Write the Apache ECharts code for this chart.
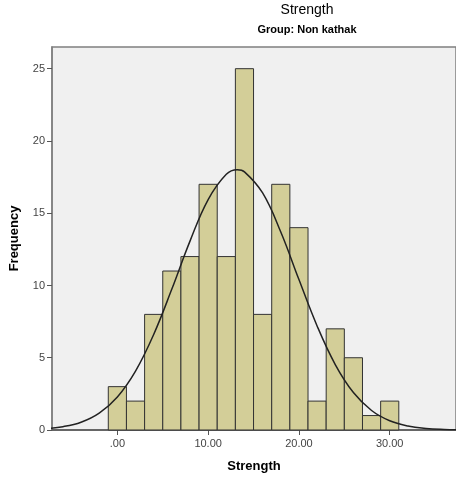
<!DOCTYPE html>
<html>
<head>
<meta charset="utf-8">
<script src="https://cdn.jsdelivr.net/npm/echarts@6/dist/echarts.min.js"></script>
<style>
    html, body { margin: 0; padding: 0; background: #fff; }
    #chart { width: 456px; height: 484px; }
</style>
</head>
<body>
<div id="chart"></div>
<script>
// 直方图分组（左边界）及频数
const binStarts = [-1, 1, 3, 5, 7, 9, 11, 13, 15, 17, 19, 21, 23, 25, 27, 29];
const binWidth = 2;
const counts = [3, 2, 8, 11, 12, 17, 12, 25, 8, 17, 14, 2, 7, 5, 1, 2];

// 正态曲线（从图上读取的点）
const curveX = [-8, -6, -4, -2, 0, 2, 4, 6, 8, 10, 12, 13.2, 14, 16, 18, 20, 22, 24, 26, 28, 30, 32, 34, 36, 38];
const curveY = [0.09, 0.23, 0.54, 1.17, 2.29, 4.08, 6.61, 9.75, 13.07, 15.94, 17.69, 18.0, 17.86, 16.4, 13.7, 10.41, 7.2, 4.53, 2.59, 1.35, 0.64, 0.28, 0.11, 0.04, 0.01];

// 坐标轴刻度
const xTicks = [0, 10, 20, 30];
const yTicks = [0, 5, 10, 15, 20, 25];

const font = 'Liberation Sans, Arial, sans-serif';

function initHistogram() {
    const chart = echarts.init(document.getElementById('chart'));
    chart.setOption({
        animation: false,
        title: [{
            text: 'Strength',
            left: 302,
            top: -2,
            textAlign: 'center',
            textStyle: { fontFamily: font, fontSize: 14, fontWeight: 'normal', color: '#000' }
        }, {
            text: 'Group: Non kathak',
            left: 302,
            top: 19,
            textAlign: 'center',
            textStyle: { fontFamily: font, fontSize: 11, fontWeight: 'bold', color: '#000' }
        }],
        grid: {
            left: 50,
            right: -2,
            top: 47,
            bottom: 54,
            show: true,
            backgroundColor: '#F0F0F0',
            borderColor: '#7f7f7f',
            borderWidth: 1.5
        },
        xAxis: {
            type: 'value',
            min: -7.2,
            max: 37.3,
            name: 'Strength',
            nameLocation: 'middle',
            nameGap: 30,
            nameTextStyle: { fontFamily: font, fontSize: 13, fontWeight: 'bold', color: '#000' },
            splitLine: { show: false },
            axisLine: { show: true, onZero: false, lineStyle: { color: '#555', width: 1.5 } },
            axisTick: { show: true, length: 5, customValues: xTicks, lineStyle: { color: '#555' } },
            axisLabel: {
                customValues: xTicks,
                fontFamily: font,
                fontSize: 11,
                color: '#444',
                formatter: v => v === 0 ? '.00' : v.toFixed(2)
            }
        },
        yAxis: {
            type: 'value',
            min: 0,
            max: 26.5,
            interval: 5,
            name: 'Frequency',
            nameLocation: 'middle',
            nameGap: 31,
            nameTextStyle: { fontFamily: font, fontSize: 13, fontWeight: 'bold', color: '#000' },
            splitLine: { show: false },
            axisLine: { show: true, onZero: false, lineStyle: { color: '#7f7f7f', width: 1.5 } },
            axisTick: { show: true, length: 5, customValues: yTicks, lineStyle: { color: '#555' } },
            axisLabel: { customValues: yTicks, fontFamily: font, fontSize: 11, color: '#444', margin: 7 }
        },
        series: [{
            type: 'custom',
            data: binStarts.map((s, i) => [s, s + binWidth, counts[i]]),
            renderItem: (params, api) => {
                const p0 = api.coord([api.value(0), api.value(2)]);
                const p1 = api.coord([api.value(1), 0]);
                return {
                    type: 'rect',
                    shape: { x: p0[0], y: p0[1], width: p1[0] - p0[0], height: p1[1] - p0[1] },
                    style: { fill: '#D3CE98', stroke: '#333', lineWidth: 1 }
                };
            },
            z: 2
        }, {
            type: 'line',
            data: curveX.map((x, i) => [x, curveY[i]]),
            smooth: 0.4,
            showSymbol: false,
            clip: true,
            lineStyle: { color: '#222', width: 1.5 },
            z: 3
        }]
    });
}

initHistogram();
</script>
</body>
</html>
